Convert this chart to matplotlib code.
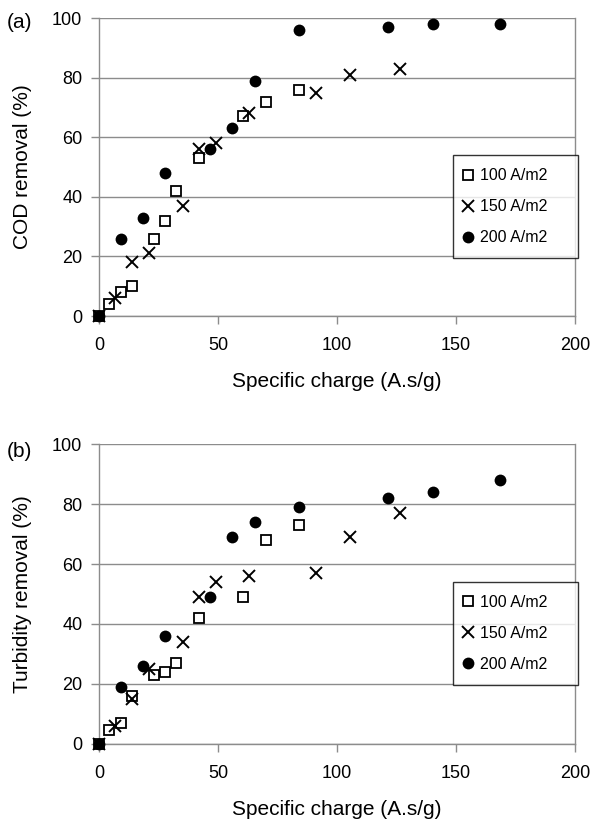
import numpy as np
import matplotlib
matplotlib.use('Agg')
import matplotlib.pyplot as plt

plt.rcParams.update({
    'font.family': ['Liberation Sans', 'DejaVu Sans'],
    'font.size': 13,
})

LABELS = ['100 A/m2', '150 A/m2', '200 A/m2']

# specific charge (A.s/g) for each current density
q_100 = [0, 4.3, 9.1, 13.7, 23.2, 27.8, 32.5, 42.0, 60.6, 70.1, 84.0]
q_150 = [0, 6.7, 14.0, 21.0, 35.2, 42.0, 49.0, 63.0, 91.2, 105.3, 126.5]
q_200 = [0, 9.1, 18.6, 27.8, 46.8, 56.0, 65.4, 84.0, 121.6, 140.5, 168.6]

# COD removal (%)
cod_100 = [0, 4, 8, 10, 26, 32, 42, 53, 67, 72, 76]
cod_150 = [0, 6, 18, 21, 37, 56, 58, 68, 75, 81, 83]
cod_200 = [0, 26, 33, 48, 56, 63, 79, 96, 97, 98, 98]

# turbidity removal (%)
turb_100 = [0, 4.5, 7, 16, 23, 24, 27, 42, 49, 68, 73]
turb_150 = [0, 6, 15, 25, 34, 49, 54, 56, 57, 69, 77]
turb_200 = [0, 19, 26, 36, 49, 69, 74, 79, 82, 84, 88]

STYLES = [
    dict(marker='s', ms=7, mfc='white', mec='black', mew=1.3),
    dict(marker='x', ms=9, mec='black', mew=1.4),
    dict(marker='o', ms=8.5, mfc='black', mec='black', mew=0),
]
GRID = '#8c8c8c'


def panel(ax, series, ylabel, tag, tag_y):
    for (x, y), lab, st in zip(series, LABELS, STYLES):
        ax.plot(x, y, ls='none', label=lab, clip_on=False, zorder=3, **st)
    ax.set_xlim(0, 200)
    ax.set_ylim(0, 100)
    ax.set_xticks(np.arange(0, 201, 50))
    ax.set_yticks(np.arange(0, 101, 20))
    ax.yaxis.grid(True, color=GRID, lw=1.0)
    ax.set_axisbelow(True)
    for s in ax.spines.values():
        s.set_color(GRID)
        s.set_linewidth(1.0)
    ax.spines['top'].set_visible(False)
    ax.tick_params(direction='out', length=6, width=1.0, color=GRID,
                   labelsize=13, pad=6)
    ax.tick_params(axis='x', pad=9)
    ax.set_xlabel('Specific charge (A.s/g)', fontsize=15, labelpad=13)
    ax.set_ylabel(ylabel, fontsize=15)
    ax.yaxis.set_label_coords(-0.141, 0.5)
    ax.text(-0.193, tag_y, tag, transform=ax.transAxes, fontsize=15,
            ha='left', va='center')
    leg = ax.legend(loc='upper left', bbox_to_anchor=(0.744, 0.221, 0.262, 0.318),
                    mode='expand', frameon=True, fancybox=False,
                    edgecolor='black', fontsize=11.5, handlelength=0.3,
                    handletextpad=0.6, labelspacing=1.0, borderpad=0.8,
                    borderaxespad=0)
    leg.get_frame().set_linewidth(1.0)
    leg.set_zorder(5)


fig = plt.figure(figsize=(5.92, 8.23), dpi=100)
ax1 = fig.add_axes([0.1672, 0.616, 0.804, 0.362])
ax2 = fig.add_axes([0.1672, 0.096, 0.804, 0.3645])

panel(ax1, [(q_100, cod_100), (q_150, cod_150), (q_200, cod_200)],
      'COD removal (%)', '(a)', 0.985)
panel(ax2, [(q_100, turb_100), (q_150, turb_150), (q_200, turb_200)],
      'Turbidity removal (%)', '(b)', 0.975)

fig.savefig('out.png', dpi=100)
